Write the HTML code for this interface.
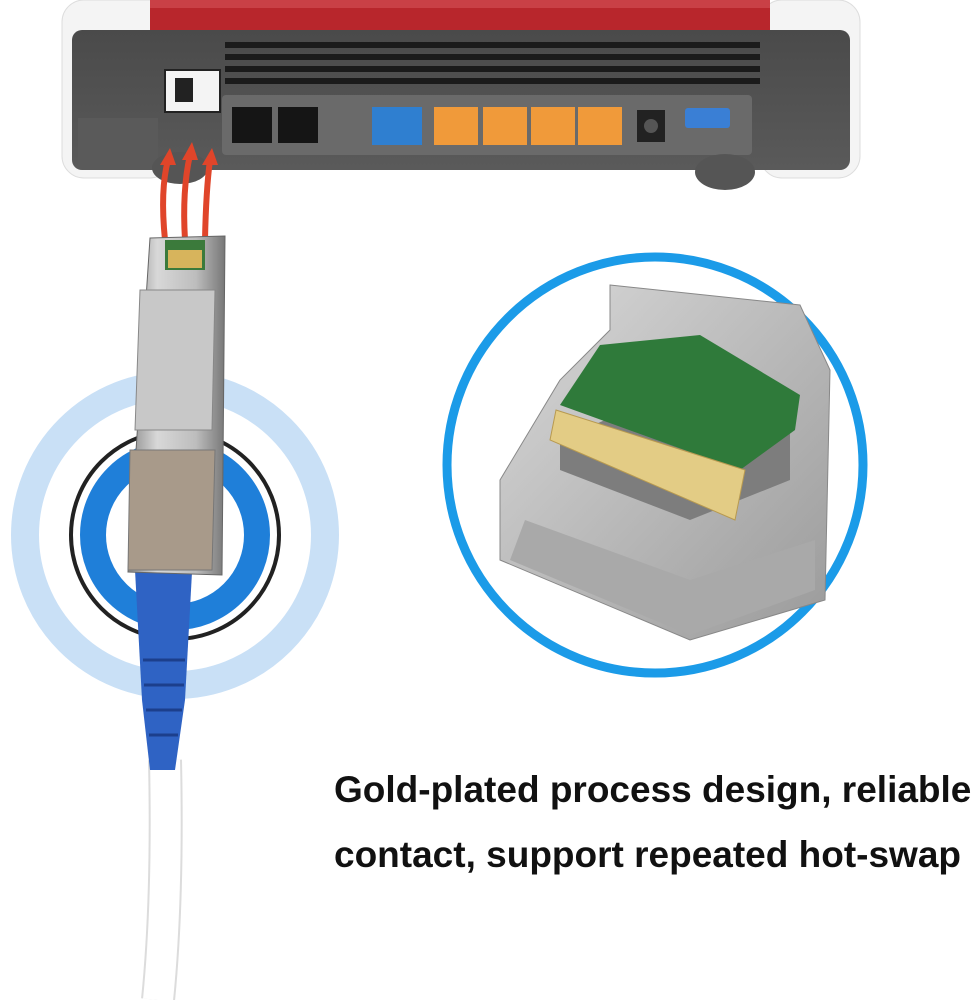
<!DOCTYPE html>
<html><head><style>
body{margin:0;width:977px;height:1000px;background:#fff;position:relative;overflow:hidden;font-family:"Liberation Sans",sans-serif}
.t{position:absolute;left:334px;font-weight:bold;font-size:37px;color:#111;white-space:nowrap}
</style></head><body>
<svg width="977" height="1000" style="position:absolute;left:0;top:0">
<defs>
<linearGradient id="body" x1="0" y1="0" x2="0" y2="1"><stop offset="0" stop-color="#4a4a4a"/><stop offset="1" stop-color="#5a5a5a"/></linearGradient>
<linearGradient id="silver" x1="0" y1="0" x2="1" y2="0"><stop offset="0" stop-color="#8a8a8a"/><stop offset=".3" stop-color="#d8d8d8"/><stop offset=".7" stop-color="#bdbdbd"/><stop offset="1" stop-color="#777"/></linearGradient>
<linearGradient id="cage" x1="0" y1="0" x2="1" y2="1"><stop offset="0" stop-color="#d9d9d9"/><stop offset="1" stop-color="#9a9a9a"/></linearGradient>
</defs>
<rect x="62" y="0" width="110" height="178" rx="22" fill="#f4f4f4" stroke="#ddd"/>
<rect x="760" y="0" width="100" height="178" rx="22" fill="#f4f4f4" stroke="#ddd"/>
<rect x="150" y="0" width="620" height="35" fill="#b8262c"/>
<rect x="150" y="0" width="620" height="8" fill="#c94046"/>
<rect x="72" y="30" width="778" height="140" rx="10" fill="url(#body)"/>
<g fill="#1b1b1b">
<rect x="225" y="42" width="535" height="6"/><rect x="225" y="54" width="535" height="6"/><rect x="225" y="66" width="535" height="6"/><rect x="225" y="78" width="535" height="6"/>
</g>
<rect x="222" y="95" width="530" height="60" rx="4" fill="#6a6a6a"/>
<rect x="232" y="107" width="40" height="36" fill="#151515"/><rect x="278" y="107" width="40" height="36" fill="#151515"/>
<rect x="372" y="107" width="50" height="38" fill="#2f7fd0"/>
<rect x="434" y="107" width="44" height="38" fill="#f09a3a"/><rect x="483" y="107" width="44" height="38" fill="#f09a3a"/><rect x="531" y="107" width="44" height="38" fill="#f09a3a"/><rect x="578" y="107" width="44" height="38" fill="#f09a3a"/>
<rect x="637" y="110" width="28" height="32" fill="#222"/><circle cx="651" cy="126" r="7" fill="#555"/>
<rect x="685" y="108" width="45" height="20" rx="3" fill="#3a7fd5"/>
<rect x="165" y="70" width="55" height="42" fill="#f4f4f4" stroke="#222" stroke-width="2"/>
<rect x="175" y="78" width="18" height="24" fill="#222"/>
<rect x="78" y="118" width="80" height="50" fill="#5a5a5a"/>
<ellipse cx="180" cy="168" rx="28" ry="16" fill="#555"/><ellipse cx="725" cy="172" rx="30" ry="18" fill="#555"/>
<g stroke="#e0452a" stroke-width="6" fill="none">
<path d="M165 240 Q160 190 168 160"/><path d="M185 240 Q182 190 190 155"/><path d="M205 240 Q206 190 210 160"/>
</g>
<g fill="#e0452a"><polygon points="160,165 176,165 170,148"/><polygon points="182,160 198,160 192,142"/><polygon points="202,165 218,165 212,148"/></g>
<circle cx="175" cy="535" r="150" fill="none" stroke="#c9e0f6" stroke-width="28"/>
<circle cx="175" cy="535" r="104" fill="none" stroke="#222" stroke-width="4"/>
<circle cx="175" cy="535" r="82" fill="none" stroke="#1f7fd9" stroke-width="26"/>
<path d="M165 760 Q168 900 158 1000" stroke="#dcdcdc" stroke-width="34" fill="none"/>
<path d="M165 760 Q168 900 158 1000" stroke="#fff" stroke-width="30" fill="none"/>
<path d="M135 570 L192 572 L185 700 L175 770 L150 770 L142 700 Z" fill="#2f63c4"/>
<g stroke="#1c3f8c" stroke-width="3"><line x1="143" y1="660" x2="185" y2="660"/><line x1="144" y1="685" x2="184" y2="685"/><line x1="146" y1="710" x2="182" y2="710"/><line x1="149" y1="735" x2="178" y2="735"/></g>
<polygon points="150,238 225,236 222,575 128,572" fill="url(#silver)" stroke="#666"/>
<rect x="165" y="240" width="40" height="30" fill="#3b7a3b"/>
<rect x="168" y="250" width="34" height="18" fill="#d7b45c"/>
<polygon points="140,290 215,290 212,430 135,430" fill="#c8c8c8" stroke="#888"/>
<polygon points="130,450 215,450 212,570 128,570" fill="#a89a8a" stroke="#777"/>
<circle cx="655" cy="465" r="208" fill="#fff" stroke="#1b9be8" stroke-width="9"/>
<path d="M610 285 L800 305 L830 370 L825 600 L690 640 L500 560 L500 480 L560 380 L610 330 Z" fill="url(#cage)" stroke="#888"/>
<path d="M525 520 L690 580 L815 540 L815 590 L690 635 L510 560 Z" fill="#a9a9a9"/>
<path d="M560 470 L690 520 L790 480 L790 430 L650 400 L560 440 Z" fill="#7d7d7d"/>
<polygon points="600,345 700,335 800,395 795,430 740,470 560,405" fill="#2f7a3a"/>
<polygon points="556,410 745,470 735,520 550,440" fill="#e3cc85" stroke="#b89a50"/>
</svg>
<div class="t" style="top:769px">Gold-plated process design, reliable</div>
<div class="t" style="top:834px">contact, support repeated hot-swap</div>
</body></html>
